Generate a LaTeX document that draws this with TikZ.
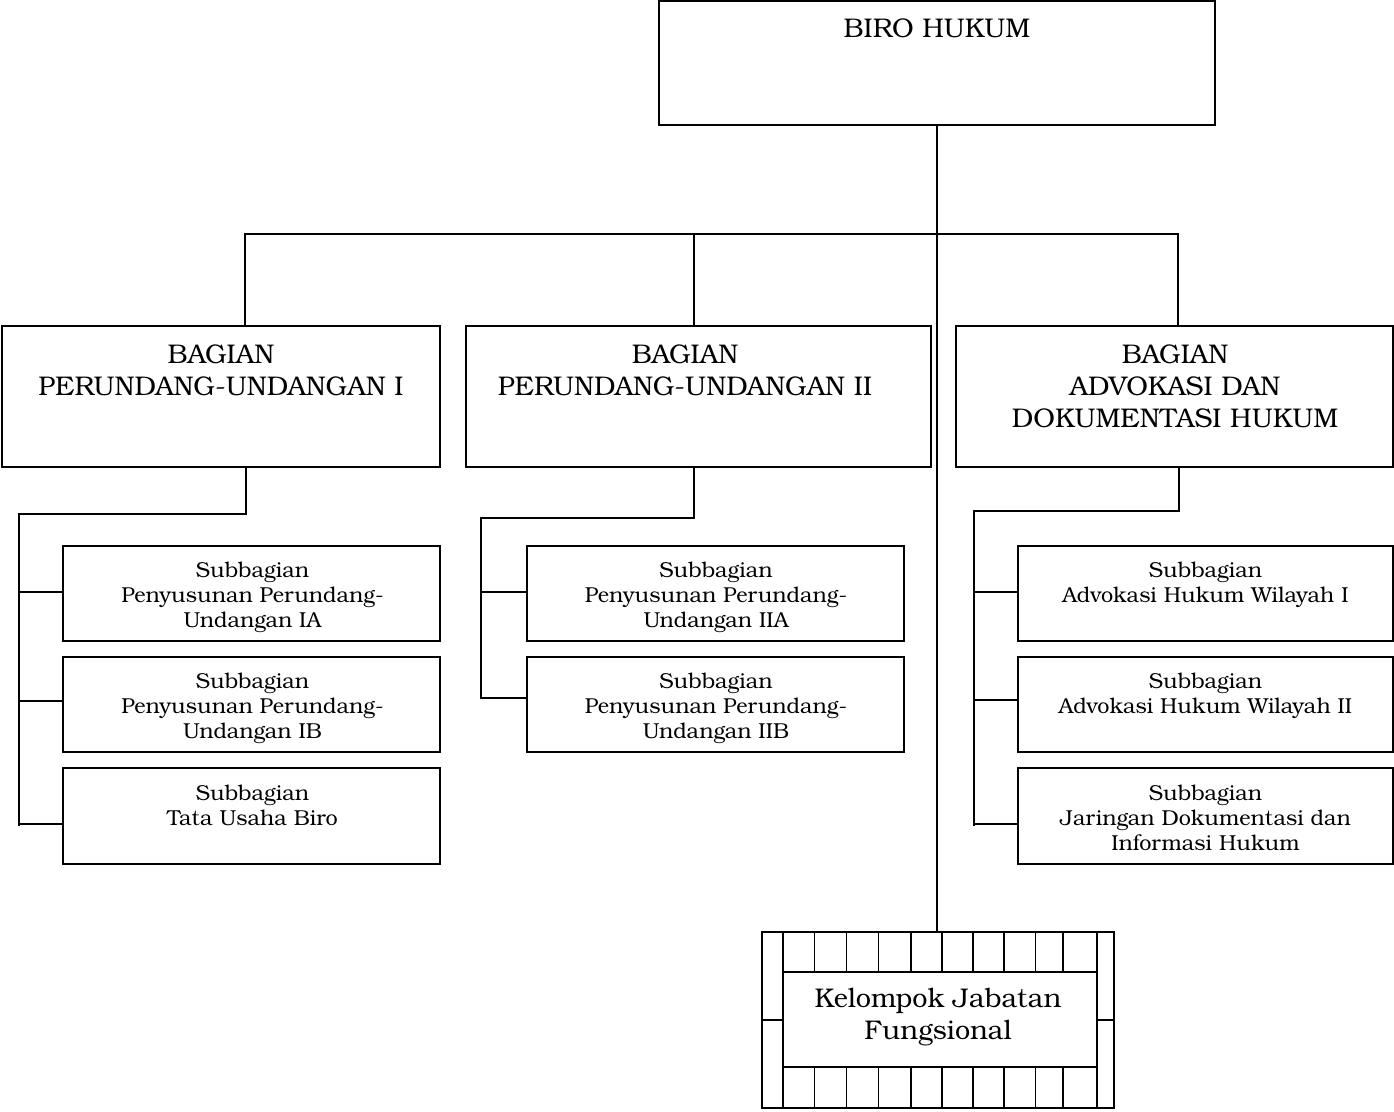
\documentclass[tikz,border=0pt]{standalone}
\usepackage{fontspec}
\setmainfont{TeX Gyre Bonum}
\begin{document}
\begin{tikzpicture}[x=1pt,y=-1pt,line width=1.9pt,
  box/.style={draw,rectangle,inner sep=0pt,outer sep=0pt},
  head/.style={font=\fontsize{27}{32}\selectfont,align=center,inner sep=0pt,anchor=north},
  subtxt/.style={font=\fontsize{21.6}{25}\selectfont,align=center,inner sep=0pt,anchor=north},
  wire/.style={line width=1.9pt,line cap=rect}]
\useasboundingbox (0,0) rectangle (1394,1111);

% head office
\node[box,minimum width=556pt,minimum height=124pt] (biro) at (937,63) {};
\node[head] (birot) at (937,18) {BIRO HUKUM};

% divisions
\node[box,minimum width=438pt,minimum height=141pt] (b1) at (221,396.5) {};
\node[box,minimum width=465pt,minimum height=141pt] (b2) at (698.5,396.5) {};
\node[box,minimum width=437pt,minimum height=141pt] (b3) at (1174.5,396.5) {};
\node[head] (b1t) at (221,344) {BAGIAN\\PERUNDANG-UNDANGAN I};
\node[head] (b2t) at (685,344) {BAGIAN\\PERUNDANG-UNDANGAN II};
\node[head] (b3t) at (1175,344) {BAGIAN\\ADVOKASI DAN\\DOKUMENTASI HUKUM};

% sub-divisions
\node[box,minimum width=377pt,minimum height=95pt] (s11) at (251.5,593.5) {};
\node[box,minimum width=377pt,minimum height=95pt] (s12) at (251.5,704.5) {};
\node[box,minimum width=377pt,minimum height=96pt] (s13) at (251.5,816) {};
\node[box,minimum width=377pt,minimum height=95pt] (s21) at (715.5,593.5) {};
\node[box,minimum width=377pt,minimum height=95pt] (s22) at (715.5,704.5) {};
\node[box,minimum width=375pt,minimum height=95pt] (s31) at (1205.5,593.5) {};
\node[box,minimum width=375pt,minimum height=95pt] (s32) at (1205.5,704.5) {};
\node[box,minimum width=375pt,minimum height=96pt] (s33) at (1205.5,816) {};

\node[subtxt] (s11t) at (252.5,561) {Subbagian\\Penyusunan Perundang-\\Undangan IA};
\node[subtxt] (s12t) at (252.5,672) {Subbagian\\Penyusunan Perundang-\\Undangan IB};
\node[subtxt] (s13t) at (252.5,784) {Subbagian\\Tata Usaha Biro};
\node[subtxt] (s21t) at (716,561) {Subbagian\\Penyusunan Perundang-\\Undangan IIA};
\node[subtxt] (s22t) at (716,672) {Subbagian\\Penyusunan Perundang-\\Undangan IIB};
\node[subtxt] (s31t) at (1205.5,561) {Subbagian\\Advokasi Hukum Wilayah I};
\node[subtxt] (s32t) at (1205.5,672) {Subbagian\\Advokasi Hukum Wilayah II};
\node[subtxt] (s33t) at (1205.5,784) {Subbagian\\Jaringan Dokumentasi dan\\Informasi Hukum};

% functional group with a chequered frame
\node[box,minimum width=352pt,minimum height=176pt] (kjf) at (938,1020) {};
\node[box,minimum width=314pt,minimum height=95pt] (kjfin) at (940,1019.5) {};
\foreach \x in {783,814.5,846.5,878.5,911,942,973,1004,1035.5,1063,1097}{
  \draw (\x,0 |- kjf.north) -- (\x,0 |- kjfin.north);
  \draw (\x,0 |- kjfin.south) -- (\x,0 |- kjf.south);
}
\draw (kjf.west |- 0,1020) -- (kjfin.west |- 0,1020);
\draw (kjfin.east |- 0,1020) -- (kjf.east |- 0,1020);
\node[head,anchor=center] (kjft) at (938,1017) {Kelompok Jabatan\\Fungsional};

% trunk and bus
\coordinate (busL) at (245,234);
\coordinate (busM) at (694,234);
\coordinate (busR) at (1178,234);
\draw[wire] (biro.south) -- (biro.south |- kjf.north);
\draw[wire] (busL) -- (busR);
\draw[wire] (busL) -- (busL |- b1.north);
\draw[wire] (busM) -- (busM |- b2.north);
\draw[wire] (busR) -- (busR |- b3.north);

% branches of Bagian I
\coordinate (j1) at (246,514);
\coordinate (r1) at (19,514);
\draw[wire] (j1 |- b1.south) -- (j1) -- (r1) -- (19,825);
\draw[wire] (19,592) -- (19,592 -| s11.west);
\draw[wire] (19,701) -- (19,701 -| s12.west);
\draw[wire] (19,824) -- (19,824 -| s13.west);

% branches of Bagian II
\coordinate (j2) at (694,518);
\coordinate (r2) at (481,518);
\draw[wire] (j2 |- b2.south) -- (j2) -- (r2) -- (481,698);
\draw[wire] (481,592) -- (481,592 -| s21.west);
\draw[wire] (481,698) -- (481,698 -| s22.west);

% branches of Bagian Advokasi
\coordinate (j3) at (1179,511);
\coordinate (r3) at (974,511);
\draw[wire] (j3 |- b3.south) -- (j3) -- (r3) -- (974,825);
\draw[wire] (974,592) -- (974,592 -| s31.west);
\draw[wire] (974,700) -- (974,700 -| s32.west);
\draw[wire] (974,824) -- (974,824 -| s33.west);
\end{tikzpicture}
\end{document}
